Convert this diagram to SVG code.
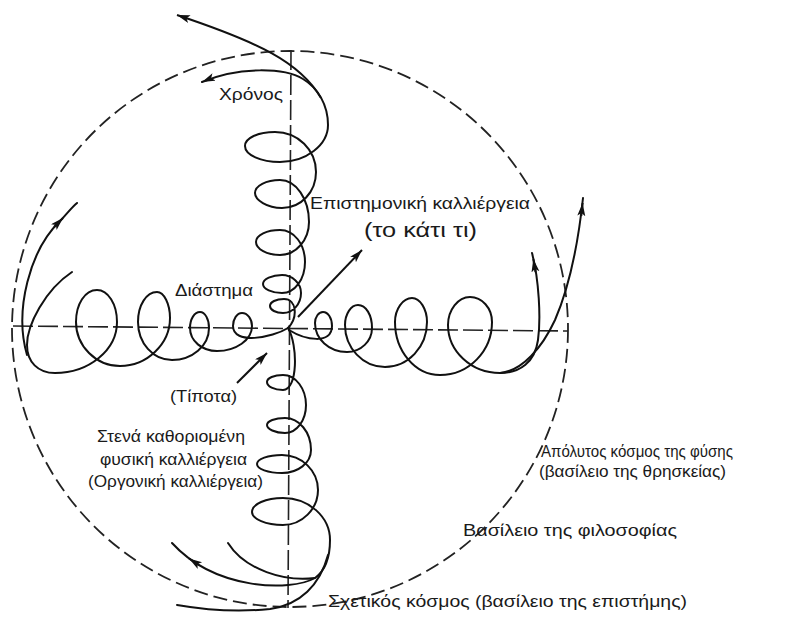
<svg xmlns="http://www.w3.org/2000/svg" width="791" height="618" viewBox="0 0 791 618">
<defs>
<marker id="ah" markerUnits="userSpaceOnUse" markerWidth="16" markerHeight="10" refX="13" refY="4" orient="auto">
<path d="M0,0 L13,4 L0,8 L3,4 z" fill="#111"/>
</marker>
</defs>
<style>
.ax{fill:none;stroke:#222;stroke-width:1.6;stroke-dasharray:20 5}
.circ{fill:none;stroke:#222;stroke-width:1.8;stroke-dasharray:14 6}
.sp{fill:none;stroke:#111;stroke-width:2;stroke-linecap:round;stroke-linejoin:round}
.arr{fill:none;stroke:#111;stroke-width:2;marker-end:url(#ah)}
text{font-family:"Liberation Sans",Arial,sans-serif;font-size:16px;fill:#1a1a1a}
</style>
<rect width="791" height="618" fill="#fff"/>
<g id="frame">
<circle cx="290" cy="329" r="278" class="circ"/>
<line x1="13" y1="326" x2="568" y2="331" class="ax"/>
<line x1="291" y1="50" x2="288" y2="608" class="ax"/>
</g>
<g id="connectors">
<!-- right spiral -->
<path class="sp" d="M289,330 C305,340 332,345 332,326 C332,318 328,312 323,312 C318.6,312 315,317 315,323 C315,339 329,352 347,352 C361,352 372,341 372,328 C372,315 366,305 358,305 C351,305 345,314 345,325 C345,348 363,367 385,367 C408,367 427,347 427,322 C427,309 420,298 412,298 C403,298 395,309 395,322 C395,351 415,375 440,375 C469,375 492,351 492,322 C492,308 482,297 470,297 C458,297 448,310 448,325 C448,351 471,373 500,373 C520,373 535,362 538,340 C541,318 539,280 532,253"/>
<path class="sp" d="M500,373 C522,371 542,348 555,320 C568,290 578,245 583,198"/>
<path class="arr" d="M535.5,272 L533.3,259"/>
<path class="arr" d="M581.3,216 L582.6,203"/>
<!-- left spiral -->
<path class="sp" d="M288,328 C272,338 233,345 233,326 C233,319 237,313 242,313 C247.5,313 252,319 252,326 C252,340 236,351 217,351 C202,351 190,341 190,328 C190,319 194.5,312 200,312 C205,312 209,319 209,328 C209,346 192,360 172,360 C153,360 138,343 138,322 C138,305 146.5,292 157,292 C164,292 170,304 170,318 C170,344 147,366 120,366 C96,366 76,346 76,322 C76,304 85,290 97,290 C108,290 117,304 117,322 C117,350 89,373 55,373 C38,373 27,362 27,345 C27,325 45,290 72,272"/>
<path class="sp" d="M27,355 C14,310 30,250 60,221 C66,215 71,208 77,203"/>
<path class="arr" d="M54,227 L63,218"/>
<!-- upward spiral -->
<path class="sp" marker-end="url(#ah)" d="M288,328 C298,318 297,299 284,299 C276,299 270,302 270,306 C270,310 276,313 283,313 C293,313 301,304 301,293 C301,283 292,275 282,275 C272,275 263,279 263,284 C263,289 272,293 282,293 C295,293 305,279 305,262 C305,244 294,230 280,230 C267,230 256,235 256,242 C256,249 267,255 280,255 C296,255 309,240 309,222 C309,199 296,180 280,180 C266,180 255,186 255,193 C255,200 267,208 282,208 C301,208 316,192 316,172 C316,150 298,132 275,132 C258,132 245,138 245,146 C245,155 261,162 280,162 C306,162 328,145 328,125 C328,105 318,88 303,79 C285,68 240,66 202,82"/>
<path class="arr" d="M321,98 C300,62 258,42 177,15"/>
<!-- downward spiral -->
<path class="sp" d="M288,328 C298,345 298,390 283,390 C274,390 267,386.4 267,382 C267,378 274,375 283,375 C296,375 306,389 306,405 C306,420 297,433 285,433 C275,433 267,429 267,425 C267,421 275,418 285,418 C299,418 311,432 311,450 C311,463 298,473 282,473 C268,473 257,469 257,464 C257,459 268,455 282,455 C302,455 318,471 318,490 C318,509 302,525 283,525 C266,525 252,519 252,512 C252,504 266,498 283,498 C309,498 330,517 330,540 C330,558 326,570 315,578 C290,592 215,590 172,543"/>
<path class="sp" d="M315,578 C285,582 245,570 228,543"/>
<path class="sp" d="M328,555 C320,585 300,605 270,609 C230,613 200,609 177,605"/>
<path class="arr" d="M199,565 L189,558.5"/>
<!-- central arrows -->
<path class="arr" d="M298,317 L362,250"/>
<path class="arr" d="M237,383 L267,353"/>
</g>
<g id="label-xronos"><text x="219" y="100" textLength="64" lengthAdjust="spacingAndGlyphs">Χρόνος</text></g>
<g id="label-epistimoniki"><text x="310" y="209" textLength="220" lengthAdjust="spacingAndGlyphs">Επιστημονική καλλιέργεια</text></g>
<g id="label-kati"><text x="364" y="237" style="font-size:21px" textLength="113" lengthAdjust="spacingAndGlyphs">(το κάτι τι)</text></g>
<g id="label-diastima"><text x="175" y="296" textLength="78" lengthAdjust="spacingAndGlyphs">Διάστημα</text></g>
<g id="label-tipota"><text x="170" y="402" textLength="67" lengthAdjust="spacingAndGlyphs">(Τίποτα)</text></g>
<g id="label-fysiki">
<text x="97" y="442" textLength="148" lengthAdjust="spacingAndGlyphs">Στενά καθοριομένη</text>
<text x="100" y="465" textLength="147" lengthAdjust="spacingAndGlyphs">φυσική καλλιέργεια</text>
<text x="88" y="487" textLength="175" lengthAdjust="spacingAndGlyphs">(Οργονική καλλιέργεια)</text>
</g>
<g id="label-apolytos">
<text x="541" y="457" textLength="192" lengthAdjust="spacingAndGlyphs">Απόλυτος κόσμος της φύσης</text>
<text x="539" y="477" textLength="187" lengthAdjust="spacingAndGlyphs">(βασίλειο της θρησκείας)</text>
</g>
<g id="label-filosofia"><text x="463" y="536" textLength="214" lengthAdjust="spacingAndGlyphs">Βασίλειο της φιλοσοφίας</text></g>
<g id="label-sxetikos"><text x="328" y="607" textLength="359" lengthAdjust="spacingAndGlyphs">Σχετικός κόσμος (βασίλειο της επιστήμης)</text></g>
</svg>
